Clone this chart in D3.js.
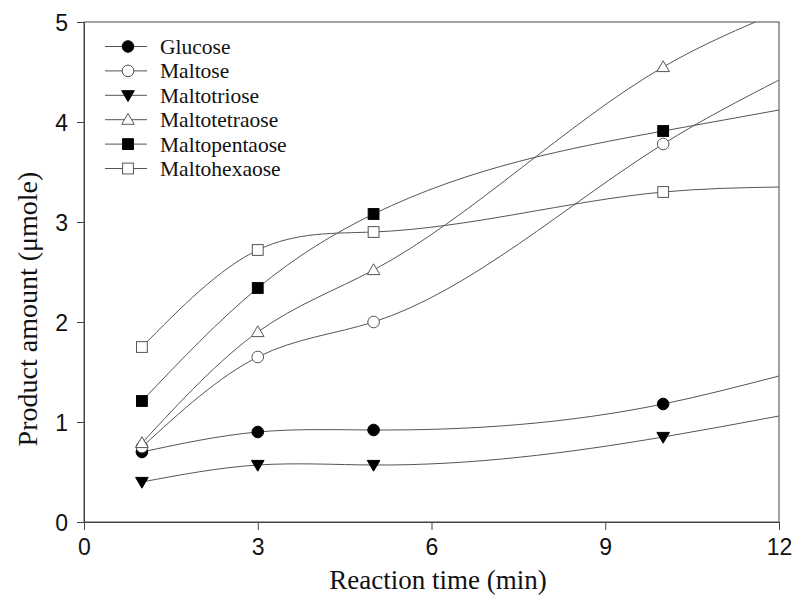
<!DOCTYPE html>
<html>
<head>
<meta charset="utf-8">
<script src="https://cdn.jsdelivr.net/npm/d3@7"></script>
<style>
  body { margin: 0; background: #fff; }
  .tick text { font-family: "Liberation Sans", Arial, sans-serif; }
</style>
</head>
<body>
<div id="chart"></div>
<script>
// sampling times (min) and measured product amounts (µmole)
const times = [1, 3, 5, 10];
const glucose = [0.70, 0.90, 0.92, 1.18];
const maltose = [0.75, 1.65, 2.00, 3.78];
const maltotriose = [0.40, 0.57, 0.57, 0.85];
const maltotetraose = [0.79, 1.90, 2.52, 4.55];
const maltopentaose = [1.21, 2.34, 3.08, 3.91];
const maltohexaose = [1.75, 2.72, 2.90, 3.30];

// where each fitted curve reaches the right edge (x = 12)
const curveEndX = 12;
const curveEnds = [1.46, 4.42, 1.06, 5.10, 4.12, 3.35];

const xTicks = [0, 3, 6, 9, 12];
const yTicks = [0, 1, 2, 3, 4, 5];

const series = [
    { name: 'Glucose', values: glucose, shape: 'circle', filled: true },
    { name: 'Maltose', values: maltose, shape: 'circle', filled: false },
    { name: 'Maltotriose', values: maltotriose, shape: 'triangleDown', filled: true },
    { name: 'Maltotetraose', values: maltotetraose, shape: 'triangleUp', filled: false },
    { name: 'Maltopentaose', values: maltopentaose, shape: 'square', filled: true },
    { name: 'Maltohexaose', values: maltohexaose, shape: 'square', filled: false }
];

const width = 797, height = 597;
const margin = { left: 84, right: 18, top: 22, bottom: 75 };
const lineColor = '#555';
const serif = '"Liberation Serif", "Times New Roman", serif';

// natural cubic spline with x as the parameter (like the plotting program's spline)
function NaturalX(context) { this._context = context; }
NaturalX.prototype = {
    areaStart: function() {},
    areaEnd: function() {},
    lineStart: function() { this._x = []; this._y = []; },
    point: function(x, y) { this._x.push(+x); this._y.push(+y); },
    lineEnd: function() {
        const xs = this._x, ys = this._y, n = xs.length;
        if (!n) return;
        const ctx = this._context;
        ctx.moveTo(xs[0], ys[0]);
        if (n === 2) { ctx.lineTo(xs[1], ys[1]); return; }
        const h = [], s = [];
        for (let i = 0; i < n - 1; i++) {
            h.push(xs[i + 1] - xs[i]);
            s.push((ys[i + 1] - ys[i]) / h[i]);
        }
        // solve for second derivatives, M[0] = M[n-1] = 0
        const M = new Array(n).fill(0);
        const a = [], b = [], c = [], r = [];
        for (let i = 1; i < n - 1; i++) {
            a.push(h[i - 1]);
            b.push(2 * (h[i - 1] + h[i]));
            c.push(h[i]);
            r.push(6 * (s[i] - s[i - 1]));
        }
        const m = b.length;
        for (let i = 1; i < m; i++) {
            const w = a[i] / b[i - 1];
            b[i] -= w * c[i - 1];
            r[i] -= w * r[i - 1];
        }
        const sol = new Array(m);
        sol[m - 1] = r[m - 1] / b[m - 1];
        for (let i = m - 2; i >= 0; i--) sol[i] = (r[i] - c[i] * sol[i + 1]) / b[i];
        for (let i = 0; i < m; i++) M[i + 1] = sol[i];
        const slope = [];
        for (let i = 0; i < n - 1; i++) slope.push(s[i] - h[i] * (2 * M[i] + M[i + 1]) / 6);
        slope.push(s[n - 2] + h[n - 2] * (M[n - 2] + 2 * M[n - 1]) / 6);
        for (let i = 0; i < n - 1; i++) {
            const d = h[i] / 3;
            ctx.bezierCurveTo(xs[i] + d, ys[i] + slope[i] * d,
                xs[i + 1] - d, ys[i + 1] - slope[i + 1] * d,
                xs[i + 1], ys[i + 1]);
        }
    }
};
function curveNaturalX(context) { return new NaturalX(context); }

const svg = d3.select('#chart').append('svg')
    .attr('width', width)
    .attr('height', height);

const x = d3.scaleLinear().domain([0, 12]).range([margin.left, width - margin.right]);
const y = d3.scaleLinear().domain([0, 5]).range([height - margin.bottom, margin.top]);

svg.append('defs').append('clipPath')
    .attr('id', 'plotClip')
    .append('rect')
    .attr('x', x(0))
    .attr('y', y(5))
    .attr('width', x(12) - x(0))
    .attr('height', y(0) - y(5));

// frame
svg.append('rect')
    .attr('x', x(0))
    .attr('y', y(5))
    .attr('width', x(12) - x(0))
    .attr('height', y(0) - y(5))
    .attr('fill', 'none')
    .attr('stroke', '#444')
    .attr('stroke-width', 1);

const xAxis = svg.append('g')
    .attr('transform', `translate(0,${y(0)})`)
    .call(d3.axisBottom(x).tickValues(xTicks).tickFormat(d3.format('d'))
        .tickSize(8).tickPadding(9).tickSizeOuter(0));
const yAxis = svg.append('g')
    .attr('transform', `translate(${x(0)},0)`)
    .call(d3.axisLeft(y).tickValues(yTicks).tickFormat(d3.format('d'))
        .tickSize(7).tickPadding(9).tickSizeOuter(0));

[xAxis, yAxis].forEach(ax => {
    ax.select('.domain').attr('stroke', '#444');
    ax.selectAll('.tick line').attr('stroke', '#444');
    ax.selectAll('.tick text').attr('fill', '#111').style('font-size', '23px');
});
yAxis.selectAll('.tick text').attr('dy', '0.36em');

svg.append('text')
    .attr('x', 438)
    .attr('y', 589)
    .attr('text-anchor', 'middle')
    .attr('font-family', serif)
    .attr('font-size', 27)
    .attr('fill', '#111')
    .text('Reaction time (min)');

svg.append('text')
    .attr('transform', 'translate(37,309) rotate(-90)')
    .attr('text-anchor', 'middle')
    .attr('font-family', serif)
    .attr('font-size', 28)
    .attr('fill', '#111')
    .text('Product amount (μmole)');

const line = d3.line()
    .x(d => x(d[0]))
    .y(d => y(d[1]))
    .curve(curveNaturalX);

const curves = svg.append('g').attr('clip-path', 'url(#plotClip)');
series.forEach((s, i) => {
    const pts = times.map((t, j) => [t, s.values[j]]);
    pts.push([curveEndX, curveEnds[i]]);
    curves.append('path')
        .attr('d', line(pts))
        .attr('fill', 'none')
        .attr('stroke', lineColor)
        .attr('stroke-width', 1);
});

function drawMarker(g, shape, filled, cx, cy) {
    const fill = filled ? '#000' : '#fff';
    const stroke = filled ? '#000' : lineColor;
    if (shape === 'circle') {
        g.append('circle').attr('cx', cx).attr('cy', cy).attr('r', 5.8)
            .attr('fill', fill).attr('stroke', stroke).attr('stroke-width', 1);
    } else if (shape === 'square') {
        g.append('rect').attr('x', cx - 5.4).attr('y', cy - 5.4).attr('width', 10.8).attr('height', 10.8)
            .attr('fill', fill).attr('stroke', stroke).attr('stroke-width', 1);
    } else if (shape === 'triangleDown') {
        g.append('path').attr('d', `M${cx - 6.3},${cy - 4.6}L${cx + 6.3},${cy - 4.6}L${cx},${cy + 6.2}Z`)
            .attr('fill', fill).attr('stroke', stroke).attr('stroke-width', 1);
    } else {
        g.append('path').attr('d', `M${cx - 6.3},${cy + 4.6}L${cx + 6.3},${cy + 4.6}L${cx},${cy - 6.2}Z`)
            .attr('fill', fill).attr('stroke', stroke).attr('stroke-width', 1);
    }
}

const markers = svg.append('g');
series.forEach(s => {
    times.forEach((t, j) => drawMarker(markers, s.shape, s.filled, x(t), y(s.values[j])));
});

// legend
const legend = svg.append('g');
series.forEach((s, i) => {
    const ly = 46.5 + i * 24.4;
    legend.append('line')
        .attr('x1', 105).attr('x2', 147)
        .attr('y1', ly).attr('y2', ly)
        .attr('stroke', lineColor).attr('stroke-width', 1);
    drawMarker(legend, s.shape, s.filled, 128, ly);
    legend.append('text')
        .attr('x', 160)
        .attr('y', ly)
        .attr('dy', '0.35em')
        .attr('font-family', serif)
        .attr('font-size', 21.5)
        .attr('fill', '#111')
        .text(s.name);
});
</script>
</body>
</html>
